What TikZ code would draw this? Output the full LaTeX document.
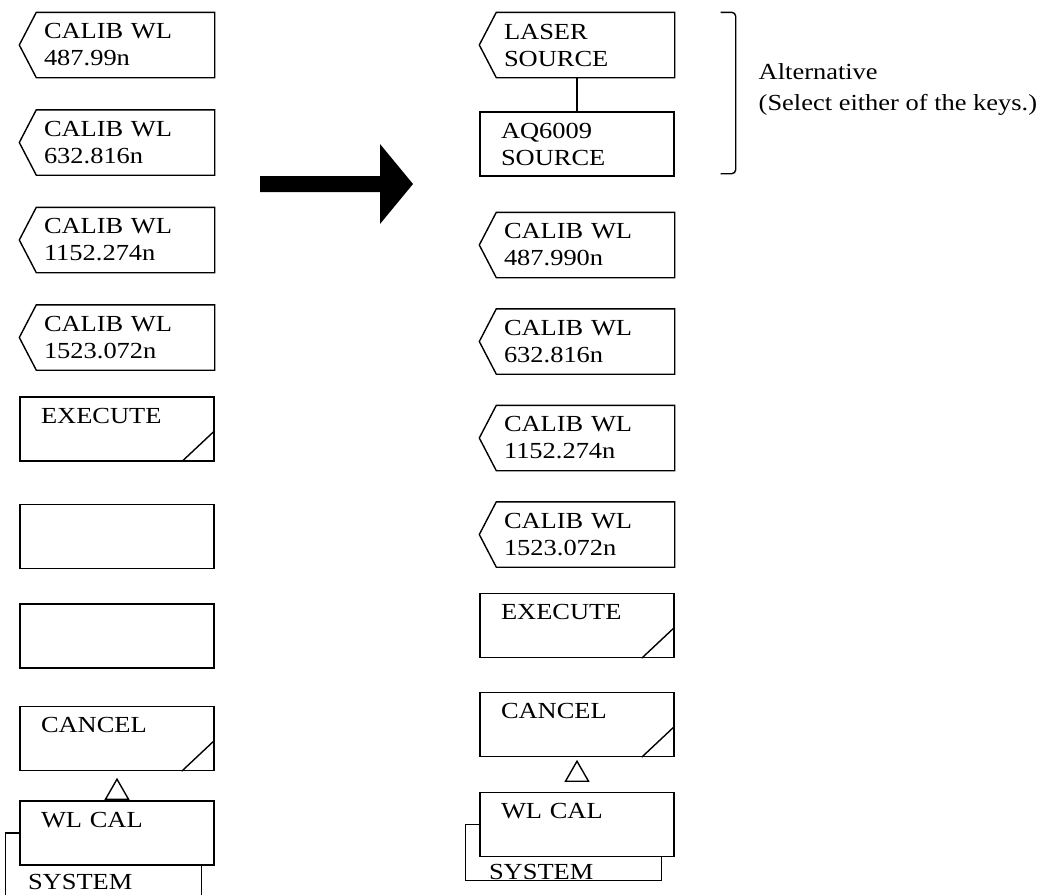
\documentclass[tikz,border=0pt]{standalone}
\usepackage{fontspec}
\setmainfont[FakeStretch=1.15]{Liberation Serif}
\usepackage{tikz}
\usetikzlibrary{positioning}
\tikzstyle{every node}=[font=\fontsize{23pt}{27pt}\selectfont]
\tikzstyle{Skey}=[draw, text width=152pt, inner xsep=21pt, inner ysep=0pt,
                minimum height=64pt, align=left]
\tikzstyle{Ssel}=[Skey, draw=none, text width=146pt, inner xsep=24pt]
\tikzstyle{Stxt}=[inner sep=0pt]
\newcommand{\SKnotch}[1]{\draw (#1.north east) -- ([xshift=17pt]#1.north west)
  -- (#1.west) -- ([xshift=17pt]#1.south west) -- (#1.south east) -- cycle;}
\newcommand{\SKexec}[1]{\draw ([xshift=-33pt]#1.south east) -- ([yshift=31pt]#1.south east);}
\newcommand{\SKup}[2]{\draw ([yshift=-#2]#1.south) -- ++(-11.5,-20) -- ++(23,0) -- cycle;}

\begin{document}
\begin{tikzpicture}[x=1pt,y=1pt,line width=1.4pt,node distance=97.5pt]
\useasboundingbox (0,0) rectangle (1043,-894);

% before
\node[Ssel] (lcal1) at (117,-45) {CALIB WL\\487.99n};
\node[Ssel, below of=lcal1] (lcal2) {CALIB WL\\632.816n};
\node[Ssel, below of=lcal2] (lcal3) {CALIB WL\\1152.274n};
\node[Ssel, below of=lcal3] (lcal4) {CALIB WL\\1523.072n};
\node[Skey, below of=lcal4, node distance=91.5pt] (lexec) {EXECUTE\\\mbox{}};
\node[Skey, below of=lexec, node distance=107.5pt] (lblankA) {};
\node[Skey, below of=lblankA, node distance=99.5pt] (lblankB) {};
\node[Skey, below of=lblankB, node distance=102.5pt] (lcancel) {CANCEL\\\mbox{}};
\node[Skey, below of=lcancel, node distance=94.5pt] (lwlcal) {WL CAL\\\mbox{}};
\node[Stxt, anchor=base west] (lsys) at ([xshift=8pt,yshift=-24pt]lwlcal.south west) {SYSTEM};

% after
\node[Ssel] (rlaser) at (577,-45) {LASER\\SOURCE};
\node[Skey, below of=rlaser, node distance=99pt] (raq) {AQ6009\\SOURCE};
\node[Ssel, below of=raq, node distance=101pt] (rcal1) {CALIB WL\\487.990n};
\node[Ssel, below of=rcal1, node distance=96.5pt] (rcal2) {CALIB WL\\632.816n};
\node[Ssel, below of=rcal2, node distance=96.5pt] (rcal3) {CALIB WL\\1152.274n};
\node[Ssel, below of=rcal3, node distance=96.5pt] (rcal4) {CALIB WL\\1523.072n};
\node[Skey, below of=rcal4, node distance=91pt] (rexec) {EXECUTE\\\mbox{}};
\node[Skey, below of=rexec, node distance=99pt] (rcancel) {CANCEL\\\mbox{}};
\node[Skey, below of=rcancel, node distance=100pt] (rwlcal) {WL CAL\\\mbox{}};
\node[Stxt, anchor=base west] (rsys) at ([xshift=9pt,yshift=-22pt]rwlcal.south west) {SYSTEM};

\node[Stxt, anchor=west, align=left, font=\fontsize{23pt}{31pt}\selectfont] (alt) at (758,-90)
  {Alternative\\(Select either of the keys.)};

\foreach \k in {lcal1,lcal2,lcal3,lcal4,rlaser,rcal1,rcal2,rcal3,rcal4}
  \SKnotch{\k};
\SKexec{lexec} \SKexec{lcancel} \SKexec{rexec} \SKexec{rcancel}
\SKup{lcancel}{8pt} \SKup{rcancel}{4pt}

% system key behind
\draw (lwlcal.west) -- ++(-14,0) -- ++(0,-63);
\draw ([xshift=-13pt]lwlcal.south east) -- ++(0,-32);
\coordinate (rsysc) at (rwlcal.south east |- rsys.base);
\draw (rwlcal.west) -- ++(-14,0) |- ([xshift=-13pt,yshift=-1pt]rsysc)
  -- ([xshift=-13pt]rwlcal.south east);

\draw (rlaser) -- (raq);
\draw[rounded corners=4pt] ([xshift=46pt]rlaser.north east) -- ([xshift=61pt]rlaser.north east)
  -- ([xshift=61pt,yshift=3pt]raq.south east) -- ([xshift=46pt,yshift=3pt]raq.south east);

\fill (260,-176) -- (380,-176) -- (380,-144) -- (413,-184) -- (380,-224)
  -- (380,-192) -- (260,-192) -- cycle;
\end{tikzpicture}
\end{document}
